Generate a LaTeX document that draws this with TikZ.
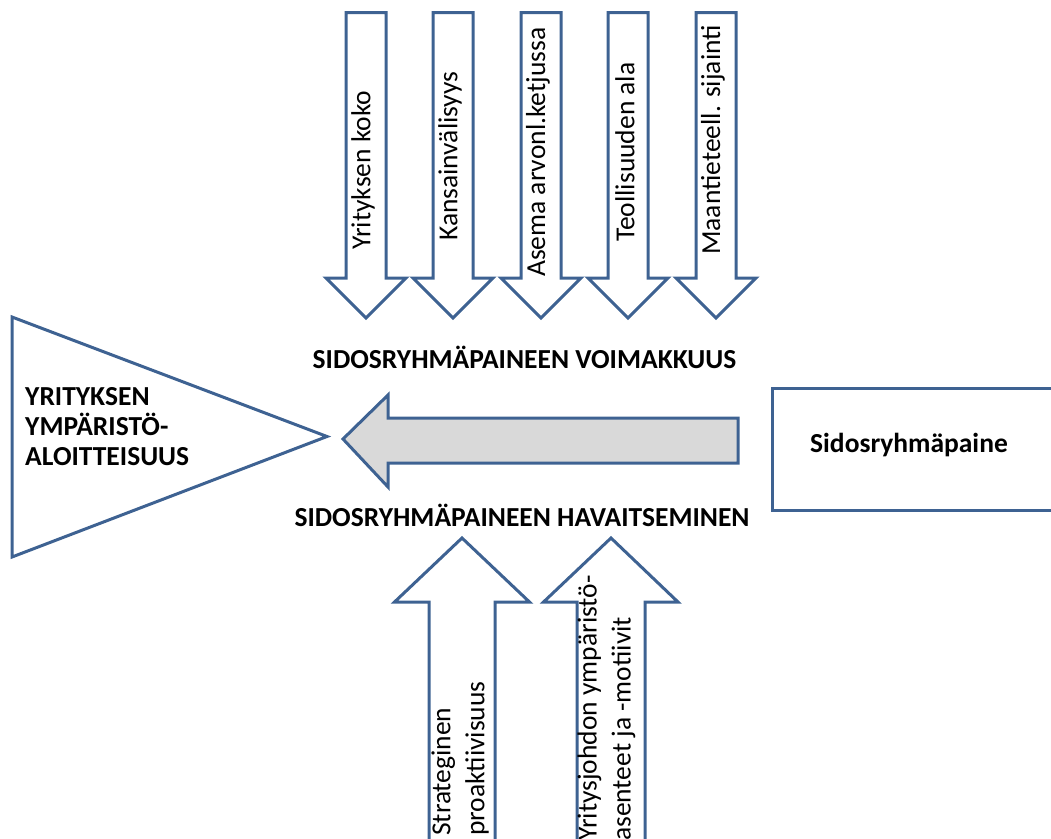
\documentclass[tikz,border=0pt]{standalone}
\usepackage{fontspec}
\setmainfont{Carlito}
\definecolor{outlineblue}{HTML}{3E6292}
\definecolor{arrowgray}{HTML}{D9D9D9}

\begin{document}
\begin{tikzpicture}[x=1pt, y=-1pt,
          shapeline/.style={draw=outlineblue, line width=3pt, line join=miter},
          arrowtext/.style={inner sep=0pt, rotate=90, anchor=west, font=\fontsize{27.5}{34}\selectfont},
          boldtext/.style={inner sep=0pt, font=\fontsize{27.5}{30}\selectfont\bfseries}]

        \useasboundingbox (0,0) rectangle (1051,838);

        % factors pushing down
        \foreach \c in {366,453,541,628,716}
          \draw[shapeline] ({\c-20},12.5) -- ({\c+20},12.5) -- ({\c+20},278) -- ({\c+40},278)
                 -- (\c,318) -- ({\c-40},278) -- ({\c-20},278) -- cycle;

        \node[arrowtext] (koko)     at (363,250) {Yrityksen koko};
        \node[arrowtext] (kansainv) at (450,241) {Kansainvälisyys};
        \node[arrowtext] (asema)    at (538,277) {Asema arvonl.ketjussa};
        \node[arrowtext] (ala)      at (625,242) {Teollisuuden ala};
        \node[arrowtext] (sijainti) at (713,255) {Maantieteell. sijainti};

        % factors pushing up
        \draw[shapeline] (429,850) -- (429,602) -- (394.5,602) -- (462,538) -- (529.5,602)
               -- (495,602) -- (495,850);
        \draw[shapeline] (577,850) -- (577,602) -- (543.5,602) -- (611,538) -- (678,602)
               -- (645,602) -- (645,850);

        \node[arrowtext, align=left] (strat)  at (460,836)   {Strateginen\\proaktiivisuus};
        \node[arrowtext, align=left] (asenne) at (606.5,841) {Yritysjohdon ympäristö-\\asenteet ja -motiivit};

        % initiative and pressure
        \draw[shapeline] (12,317) -- (327,436.5) -- (12,557) -- cycle;
        \node[boldtext, anchor=west, align=left] (aloite) at (25,427)
             {YRITYKSEN\\YMPÄRISTÖ-\\ALOITTEISUUS};

        \draw[shapeline] (772,388) rectangle (1070,510);
        \node[boldtext, anchor=west] (paine) at (810,445) {Sidosryhmäpaine};

        \draw[shapeline, fill=arrowgray] (343,439) -- (388,395) -- (388,418) -- (738,418)
               -- (738,463) -- (388,463) -- (388,487) -- cycle;

        \node[boldtext] (voima)   at (524.5,357) {SIDOSRYHMÄPAINEEN VOIMAKKUUS};
        \node[boldtext] (havaits) at (522,515)   {SIDOSRYHMÄPAINEEN HAVAITSEMINEN};

      \end{tikzpicture}
\end{document}
